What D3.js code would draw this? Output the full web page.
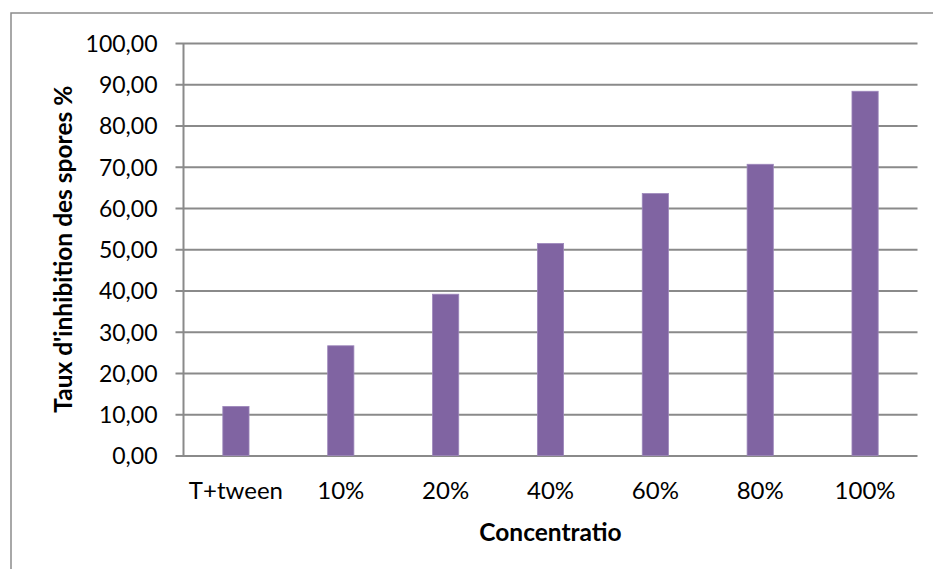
<!DOCTYPE html>
<html>
<head>
<meta charset="utf-8">
<script src="https://cdn.jsdelivr.net/npm/d3@7"></script>
<style>
  html, body { margin: 0; padding: 0; background: #fff; }
  svg { display: block; }
  text { font-family: Lato, "Open Sans", sans-serif; fill: #000; }
</style>
</head>
<body>
<svg id="chart" width="933" height="569"></svg>
<script>
// Spore inhibition rate per treatment concentration
const categories = ["T+tween", "10%", "20%", "40%", "60%", "80%", "100%"];
const inhibition = [11.9, 26.6, 39.1, 51.4, 63.5, 70.6, 88.3];
const yTicks = [0, 10, 20, 30, 40, 50, 60, 70, 80, 90, 100];
const xTitle = "Concentratio";
const yTitle = "Taux d'inhibition des spores %";

const svg = d3.select("#chart");
const W = 933, H = 569;
const plot = { left: 183.5, right: 917.5, top: 43, bottom: 455.5 };

// outer chart frame (runs off the right and bottom edges)
svg.append("path")
  .attr("d", `M11,${H + 2} L11,13 L${W + 2},13`)
  .attr("fill", "none")
  .attr("stroke", "#8c8c8c")
  .attr("stroke-width", 1.5);

const x = d3.scaleBand()
  .domain(categories)
  .range([plot.left, plot.right])
  .paddingInner(0.75)
  .paddingOuter(0.375);

const y = d3.scaleLinear()
  .domain([0, 100])
  .range([plot.bottom, plot.top]);

const fmt = v => d3.format(".2f")(v).replace(".", ",");

// horizontal gridlines with short ticks on the left
const yAxis = d3.axisLeft(y)
  .tickValues(yTicks)
  .tickFormat(fmt)
  .tickSize(-(plot.right - plot.left))
  .tickPadding(0);

const gy = svg.append("g")
  .attr("transform", `translate(${plot.left},0)`)
  .call(yAxis);
gy.select(".domain").remove();
gy.selectAll(".tick line")
  .attr("x1", -8)
  .attr("stroke", "#8a8a8a")
  .attr("stroke-width", 2);
gy.selectAll(".tick text")
  .attr("x", -26)
  .attr("dy", "0.36em")
  .style("font-size", "23px")
  .style("font-family", "Lato, sans-serif");

// vertical axis line
svg.append("line")
  .attr("x1", plot.left).attr("x2", plot.left)
  .attr("y1", plot.top).attr("y2", plot.bottom)
  .attr("stroke", "#8a8a8a")
  .attr("stroke-width", 2);

// bars
svg.append("g")
  .selectAll("rect")
  .data(categories)
  .join("rect")
  .attr("x", d => x(d))
  .attr("width", x.bandwidth())
  .attr("y", (d, i) => y(inhibition[i]))
  .attr("height", (d, i) => y(0) - y(inhibition[i]))
  .attr("fill", "#8064a2")
  .attr("stroke", "#9d87bb")
  .attr("stroke-width", 0.8);

// category labels
const xAxis = d3.axisBottom(x).tickSize(0).tickPadding(0);
const gx = svg.append("g")
  .attr("transform", `translate(0,${plot.bottom})`)
  .call(xAxis);
gx.select(".domain").remove();
gx.selectAll(".tick text")
  .attr("y", 43)
  .attr("dy", 0)
  .style("font-size", "24px")
  .style("font-family", "Lato, sans-serif");

// axis titles
svg.append("text")
  .attr("x", (plot.left + plot.right) / 2)
  .attr("y", 541)
  .attr("text-anchor", "middle")
  .style("font-size", "24.5px")
  .style("font-weight", "bold")
  .text(xTitle);

svg.append("text")
  .attr("transform", `translate(72,${(plot.top + plot.bottom) / 2}) rotate(-90)`)
  .attr("text-anchor", "middle")
  .style("font-size", "24.5px")
  .style("font-weight", "bold")
  .text(yTitle);
</script>
</body>
</html>
